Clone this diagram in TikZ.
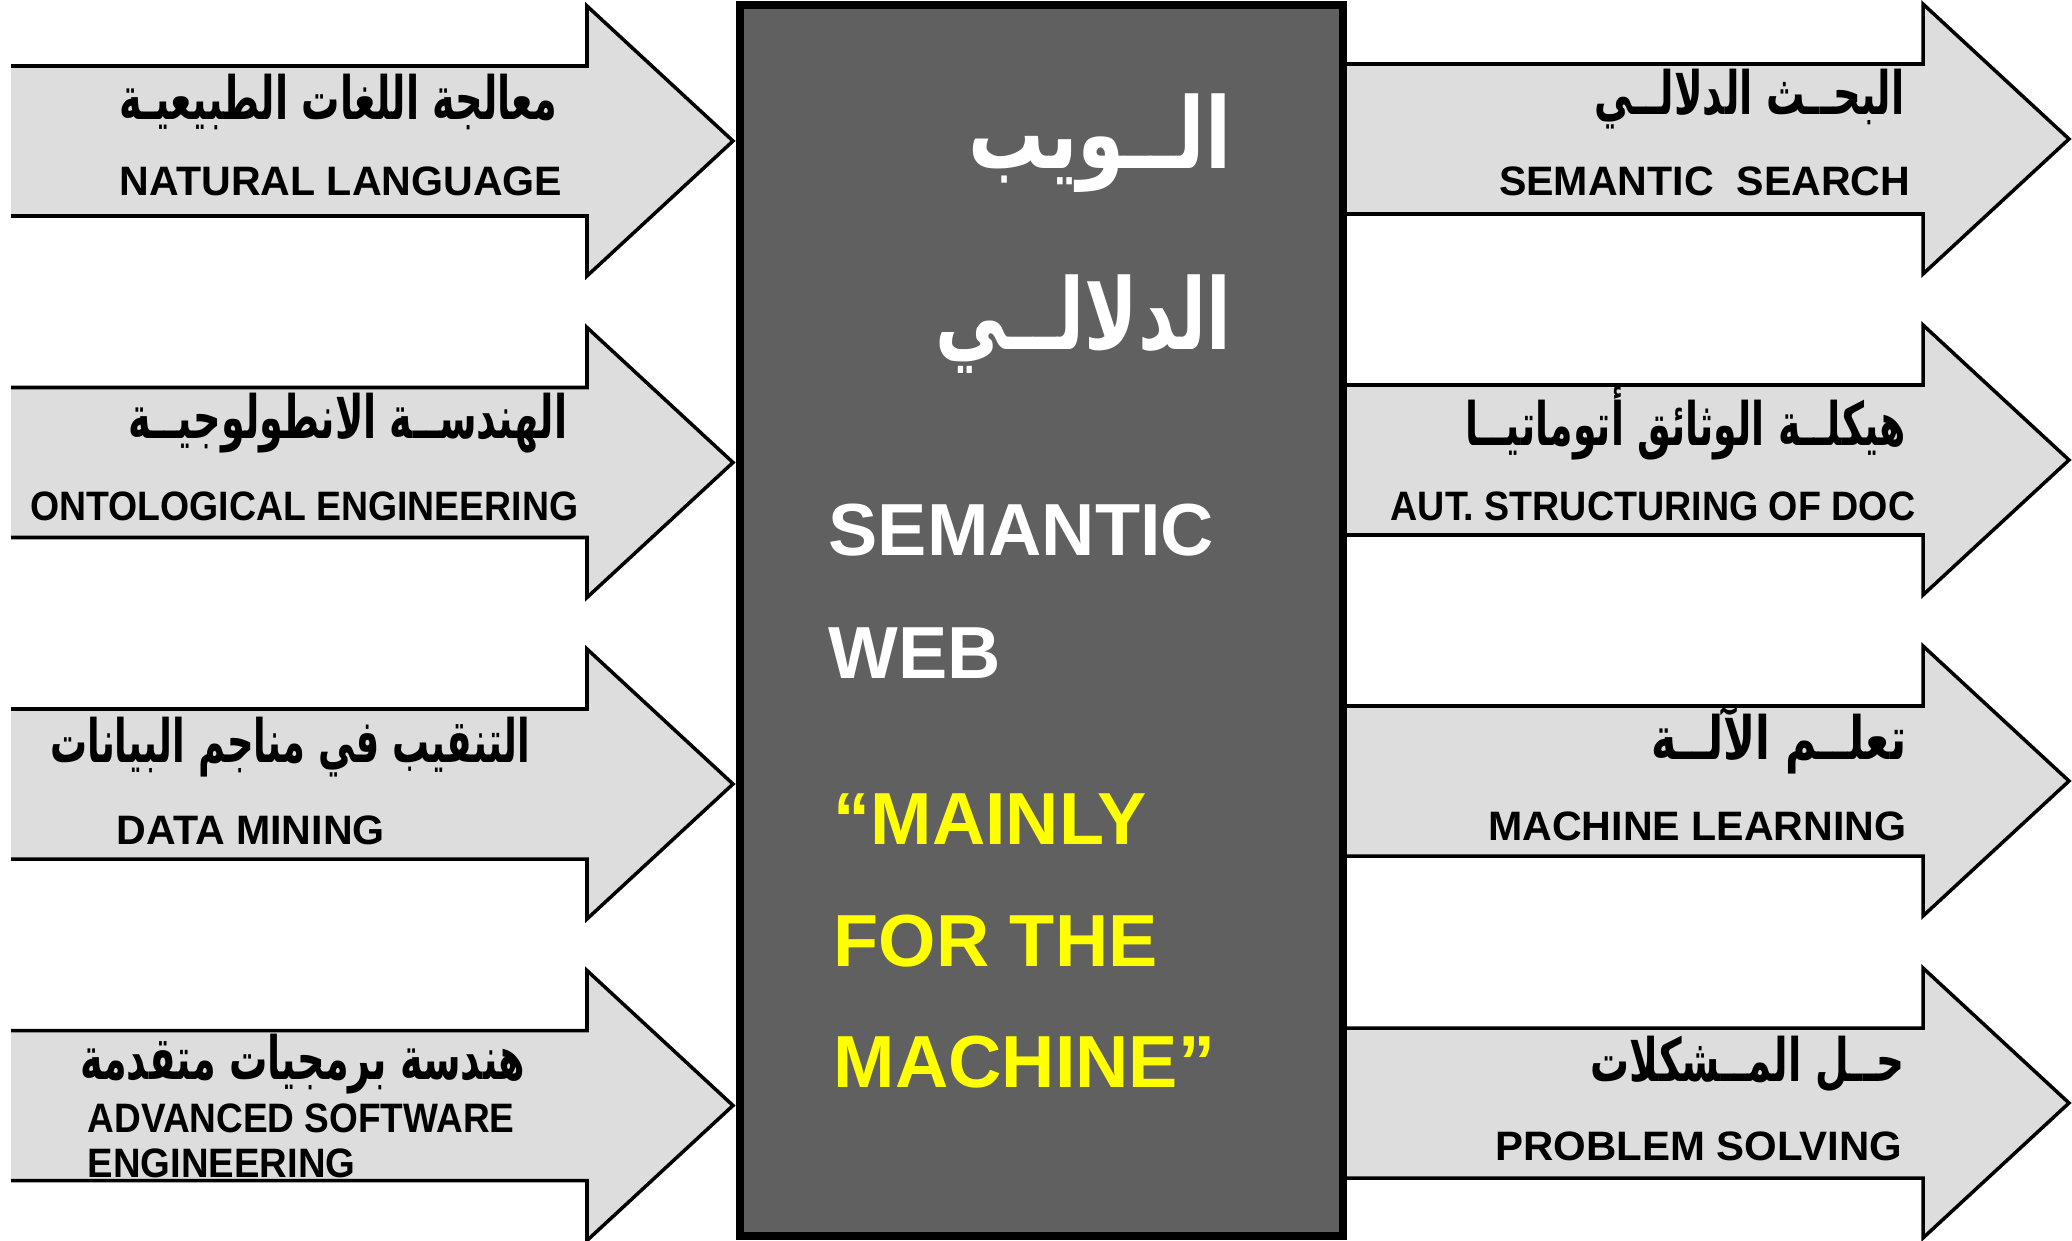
\documentclass[tikz,border=0pt]{standalone}
\usepackage{fontspec}
\setmainfont{Liberation Sans}
\newfontfamily\arabicfont[Script=Arabic]{DejaVu Sans}
\TeXXeTstate=1
\usepackage{graphicx}
\usepackage{tikz}
\definecolor{arrowgray}{HTML}{DDDDDD}
\definecolor{boxgray}{HTML}{606060}
\definecolor{quoteyellow}{HTML}{FFFF00}
\tikzstyle{bigarrow}=[
        fill=arrowgray,
        draw=black,
        line width=1pt
]
\tikzstyle{artext}=[
        font=\arabicfont\bfseries\fontsize{17}{20}\selectfont,
        inner sep=0pt,
        anchor=east
]
\tikzstyle{bigartext}=[
        font=\arabicfont\bfseries\fontsize{28}{32}\selectfont,
        text=white,
        inner sep=0pt,
        anchor=east
]
\tikzstyle{entext}=[
        font=\bfseries\fontsize{11.7}{14}\selectfont,
        inner sep=0pt
]
\tikzstyle{bigtext}=[
        font=\bfseries\fontsize{21}{24}\selectfont,
        inner sep=0pt,
        anchor=west
]

\begin{document}
\begin{tikzpicture}
                    \useasboundingbox (0,0) rectangle (20.72,12.4);

                    \foreach \y in {10.99,7.775,4.56,1.345} {
                        \filldraw[bigarrow] (0.11,\y+0.75) -- (5.87,\y+0.75) -- (5.87,\y+1.35) -- (7.33,\y) -- (5.87,\y-1.35) -- (5.87,\y-0.75) -- (0.11,\y-0.75);
                    }

                    \foreach \y in {11.01,7.8,4.59,1.37} {
                        \filldraw[bigarrow] (13.43,\y+0.75) -- (19.23,\y+0.75) -- (19.23,\y+1.35) -- (20.69,\y) -- (19.23,\y-1.35) -- (19.23,\y-0.75) -- (13.43,\y-0.75);
                    }

                    \draw[fill=boxgray, line width=2pt] (7.4,0.04) rectangle (13.43,12.35);

                    \node[artext] (nlpar) at (5.58,11.38) {\scalebox{0.64}[1]{\beginR معالجة اللغات الطبيعيـة\endR}};
                    \node[entext, anchor=east] (nlpen) at (5.63,10.59) {NATURAL LANGUAGE};
                    \node[artext] (ontoar) at (5.68,8.17) {\scalebox{0.64}[1]{\beginR الهندســة الانطولوجيــة\endR}};
                    \node[entext, anchor=east] (ontoen) at (5.79,7.34) {\scalebox{0.91}[1]{ONTOLOGICAL ENGINEERING}};
                    \node[artext] (minear) at (5.31,4.93) {\scalebox{0.618}[1]{\beginR التنقيب في مناجم البيانات\endR}};
                    \node[entext, anchor=west] (mineen) at (1.16,4.10) {DATA MINING};
                    \node[artext] (softar) at (5.26,1.76) {\scalebox{0.64}[1]{\beginR هندسة برمجيات متقدمة\endR}};
                    \node[entext, anchor=west] (soften) at (0.87,1.22) {\scalebox{0.9}[1]{ADVANCED SOFTWARE}};
                    \node[entext, anchor=west] (softentwo) at (0.87,0.77) {\scalebox{0.93}[1]{ENGINEERING}};

                    \node[artext] (searchar) at (19.05,11.41) {\scalebox{0.644}[1]{\beginR البحــث الدلالــي\endR}};
                    \node[entext, anchor=east] (searchen) at (19.11,10.59) {SEMANTIC\ \ SEARCH};
                    \node[artext] (structar) at (19.07,8.17) {\scalebox{0.634}[1]{\beginR هيكلــة الوثائق أتوماتيــا\endR}};
                    \node[entext, anchor=east] (structen) at (19.16,7.34) {\scalebox{0.915}[1]{AUT. STRUCTURING OF DOC}};
                    \node[artext] (learnar) at (19.07,5.00) {\scalebox{0.72}[1]{\beginR تعلــم الآلــة\endR}};
                    \node[entext, anchor=east] (learnen) at (19.07,4.14) {MACHINE LEARNING};
                    \node[artext] (solvear) at (19.05,1.76) {\scalebox{0.65}[1]{\beginR حــل المــشكلات\endR}};
                    \node[entext, anchor=east] (solveen) at (19.03,0.94) {\scalebox{1.02}[1]{PROBLEM SOLVING}};

                    \node[bigartext] (webar) at (12.32,10.97) {\scalebox{0.77}[1]{\beginR الــويب\endR}};
                    \node[bigartext] (semar) at (12.32,9.16) {\scalebox{0.73}[1]{\beginR الدلالــي\endR}};
                    \node[bigtext, text=white] (semen) at (8.28,7.10) {SEMANTIC};
                    \node[bigtext, text=white] (weben) at (8.28,5.87) {WEB};
                    \node[bigtext, text=quoteyellow] (mainly) at (8.33,4.21) {“MAINLY};
                    \node[bigtext, text=quoteyellow] (forthe) at (8.33,2.99) {FOR THE};
                    \node[bigtext, text=quoteyellow] (machine) at (8.33,1.78) {MACHINE”};
                \end{tikzpicture}
\end{document}
